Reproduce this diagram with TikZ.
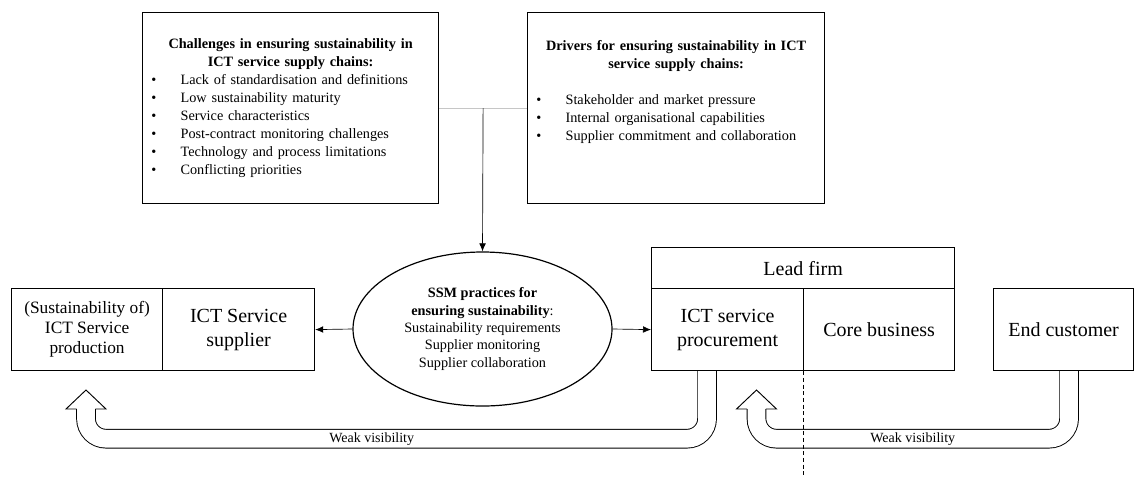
\documentclass[tikz,border=0pt]{standalone}
\usepackage{fontspec}
\setmainfont{Liberation Serif}
\usetikzlibrary{shapes.geometric,arrows.meta,calc,backgrounds}

\newcommand{\itemdot}{\makebox[24pt][l]{\hspace{2pt}\textbullet}}

\begin{document}
\begin{tikzpicture}[x=0.75pt, y=-0.75pt,
    box/.style={draw, line width=0.9pt, anchor=north west, inner sep=0pt, minimum height=61.5pt, align=center, font=\fontsize{15}{18}\selectfont},
    listbox/.style={draw, line width=0.9pt, anchor=north west, inner sep=4.5pt, minimum height=143.25pt, align=left, font=\fontsize{10.7}{13.5}\selectfont},
    conn/.style={line width=0.5pt, -{Latex[length=6pt,width=5pt]}},
    hollow/.style={draw=black, line width=0.7pt, double=white, double distance=13.3pt, rounded corners=15pt},
    headline/.style={line width=0.7pt, line join=miter},
    tag/.style={font=\fontsize{10.5}{12}\selectfont, inner sep=0pt}]
    \useasboundingbox (0,0) rectangle (1134,476);

    % challenges and drivers
    \node[listbox, text width=213pt] (chal) at (142,12) {%
        {\centering\bfseries Challenges in ensuring sustainability in\\ ICT service supply chains:\par}
        \itemdot Lack of standardisation and definitions\\
        \itemdot Low sustainability maturity\\
        \itemdot Service characteristics\\
        \itemdot Post-contract monitoring challenges\\
        \itemdot Technology and process limitations\\
        \itemdot Conflicting priorities};
    \node[listbox, text width=213.75pt] (drv) at (527,12) {%
        {\centering\bfseries Drivers for ensuring sustainability in ICT\\ service supply chains:\par}
        \mbox{}\\
        \itemdot Stakeholder and market pressure\\
        \itemdot Internal organisational capabilities\\
        \itemdot Supplier commitment and collaboration\\
        \mbox{}\\
        \mbox{}};
    \coordinate (join) at ($(chal.east)!0.5!(drv.west)$);
    \draw[gray!45, line width=0.8pt] (chal.east) -- (drv.west);

    % SSM practices
    \node[draw, ellipse, line width=0.9pt, minimum width=194.25pt, minimum height=115.5pt, align=center,
          font=\fontsize{10.7}{13.1}\selectfont] (ssm) at (482.5,329) {%
        \textbf{SSM practices for}\\
        \textbf{ensuring sustainability}:\\
        Sustainability requirements\\
        Supplier monitoring\\
        Supplier collaboration};
    \draw[conn] (join) -- (ssm.north);

    % supplier side
    \node[box, minimum width=113.25pt, font=\fontsize{13}{15}\selectfont] (prod) at (11,288) {(Sustainability of)\\ ICT Service\\ production};
    \node[box, minimum width=114pt] (sup) at (162,288) {ICT Service\\ supplier};

    % lead firm and customer
    \node[box, minimum width=227.25pt, minimum height=30.75pt] (lead) at (651,247) {Lead firm};
    \node[box, minimum width=114pt] (proc) at (651,288) {ICT service\\ procurement};
    \node[box, minimum width=113.25pt] (core) at (803,288) {Core business};
    \node[box, minimum width=105pt] (cust) at (993,288) {End customer};

    \draw[conn] (ssm.west) -- (sup.east);
    \draw[conn] (ssm.east) -- (proc.west);

    % feedback arrows
    \coordinate (headA) at (86,409);
    \coordinate (headB) at (756.5,409);
    \begin{scope}[on background layer]
        \draw[hollow] ([xshift=-15.4pt]proc.south) -- ++(0,67.5) -| (headA) node[tag, pos=0.27] {Weak visibility};
        \draw[hollow] ([xshift=4.1pt]cust.south) -- ++(0,67.5) -| (headB) node[tag, pos=0.25] {Weak visibility};
    \end{scope}
    \draw[headline] (headA) ++(-9.3,0) -- ++(-10.7,0) -- ++(20,-19) -- ++(20,19) -- ++(-10.7,0);
    \draw[headline] (headB) ++(-9.3,0) -- ++(-10.7,0) -- ++(20,-19) -- ++(20,19) -- ++(-10.7,0);

    \draw[line width=0.5pt, dash pattern=on 3pt off 2pt] (core.south west) -- ++(0,106);
\end{tikzpicture}
\end{document}
